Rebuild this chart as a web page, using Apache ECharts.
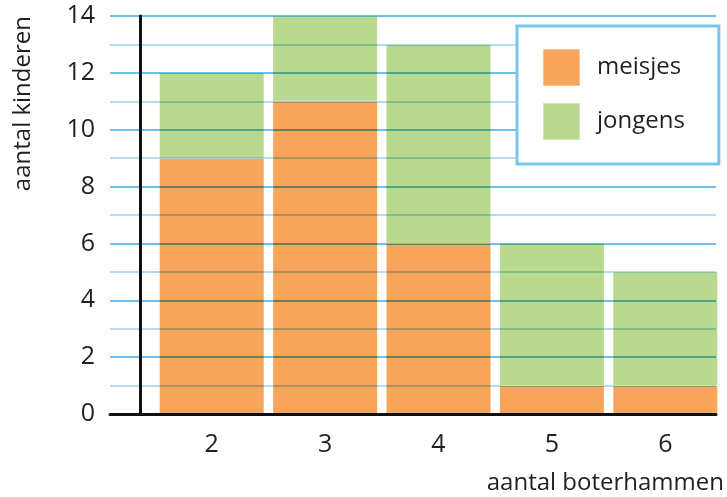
<!DOCTYPE html>
<html>
<head>
<meta charset="utf-8">
<script src="https://cdn.jsdelivr.net/npm/echarts@6/dist/echarts.min.js"></script>
<style>html,body{margin:0;padding:0;background:#fff;}#c{width:727px;height:497px;}</style>
</head>
<body>
<div id="c"></div>
<script>
const categories = ['2', '3', '4', '5', '6'];
const meisjes = [9, 11, 6, 1, 1];
const jongens = [3, 3, 7, 5, 4];
const yMin = 0, yMax = 14, yInterval = 2;
const xName = 'aantal boterhammen';
const yName = 'aantal kinderen';

const FONT = 'Open Sans';
const TXT = '#231f20';
const chart = echarts.init(document.getElementById('c'), null, {renderer: 'canvas'});
chart.setOption({
  backgroundColor: '#ffffff',
  animation: false,
  textStyle: {fontFamily: FONT},
  grid: [
    {left: 110, right: 0, top: 16, bottom: 83},
    {left: 155, right: 5, top: 16, bottom: 83}
  ],
  legend: {
    orient: 'vertical',
    left: 517, top: 26,
    padding: [22, 34, 23, 25],
    itemWidth: 37, itemHeight: 37, itemGap: 15,
    icon: 'rect',
    borderColor: '#79c6ec', borderWidth: 3,
    backgroundColor: '#ffffff',
    textStyle: {fontFamily: FONT, fontSize: 24, color: TXT, padding: [0, 0, 0, 12]},
    data: ['meisjes', 'jongens']
  },
  xAxis: [
    {
      gridIndex: 0, type: 'value', min: 0, max: 1, z: 10,
      axisLine: {show: true, lineStyle: {color: '#111', width: 3}},
      axisTick: {show: false}, axisLabel: {show: false}, splitLine: {show: false},
      name: xName, nameLocation: 'end', nameGap: 8,
      nameTextStyle: {fontFamily: FONT, fontSize: 24, color: TXT, align: 'right', verticalAlign: 'top', padding: [57, 0, 0, 0]}
    },
    {
      gridIndex: 1, type: 'category', data: categories,
      axisLine: {show: false}, axisTick: {show: false},
      axisLabel: {fontFamily: FONT, fontSize: 25, color: TXT, margin: 18}
    }
  ],
  yAxis: [
    {
      gridIndex: 0, type: 'value', min: yMin, max: yMax, interval: yInterval,
      axisLine: {show: false}, axisTick: {show: false},
      axisLabel: {fontFamily: FONT, fontSize: 25, color: TXT, margin: 15},
      splitLine: {show: true, lineStyle: {color: '#6ec1ea', width: 2}},
      minorTick: {show: false, splitNumber: 2},
      minorSplitLine: {show: true, lineStyle: {color: '#b5dcf0', width: 2}},
      name: yName, nameLocation: 'end', nameRotate: 90, nameGap: 0,
      nameTextStyle: {fontFamily: FONT, fontSize: 24, color: TXT, align: 'right', verticalAlign: 'bottom', padding: [0, 0, 75, 0]}
    },
    {
      gridIndex: 1, type: 'value', min: yMin, max: yMax, interval: yInterval, offset: 15, z: 10,
      axisLine: {show: true, lineStyle: {color: '#111', width: 3}},
      axisTick: {show: false}, axisLabel: {show: false}, splitLine: {show: false}
    }
  ],
  series: [
    {
      name: 'meisjes', type: 'bar', stack: 'total', xAxisIndex: 1, yAxisIndex: 1,
      data: meisjes, barWidth: 105, blendMode: 'multiply',
      itemStyle: {color: '#f8a55c', borderColor: 'rgba(255,255,255,0.35)', borderWidth: 1}
    },
    {
      name: 'jongens', type: 'bar', stack: 'total', xAxisIndex: 1, yAxisIndex: 1,
      data: jongens, barWidth: 105, blendMode: 'multiply',
      itemStyle: {color: '#b8d98f', borderColor: 'rgba(255,255,255,0.35)', borderWidth: 1}
    }
  ]
});
</script>
</body>
</html>
